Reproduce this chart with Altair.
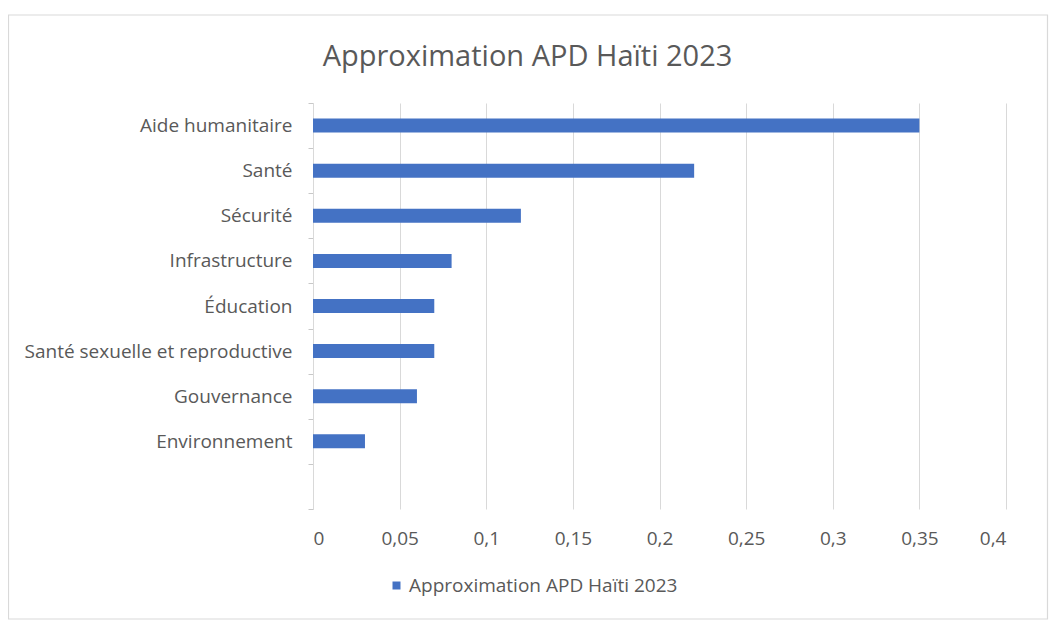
import altair as alt
import pandas as pd

categories = ["Aide humanitaire", "Santé", "Sécurité", "Infrastructure", "Éducation",
              "Santé sexuelle et reproductive", "Gouvernance", "Environnement"]
values = [0.35, 0.22, 0.12, 0.08, 0.07, 0.07, 0.06, 0.03]
series_name = "Approximation APD Haïti 2023"
x_ticks = [0, 0.05, 0.1, 0.15, 0.2, 0.25, 0.3, 0.35, 0.4]
y_domain = categories + [" "]

df = pd.DataFrame({"cat": categories, "val": values, "series": [series_name] * len(categories)})

FONT = "Open Sans"
GREY = "#595959"
LINE = "#D9D9D9"

W, H = 693, 406
PL, PT, PR, PB = 305, 95, 48, 115

bars = alt.Chart(df).mark_bar(color="#4472C4", height=14).encode(
    y=alt.Y("cat:N", sort=y_domain,
            scale=alt.Scale(domain=y_domain, paddingInner=0, paddingOuter=0),
            axis=alt.Axis(title=None, labelFont=FONT, labelFontSize=19, labelColor=GREY,
                          domainColor=LINE, tickColor="#C8C8C8", tickSize=5, tickWidth=1,
                          tickBand="extent", labelPadding=16, grid=False, labelLimit=400)),
    x=alt.X("val:Q", scale=alt.Scale(domain=[0, 0.4], nice=False),
            axis=alt.Axis(title=None, values=x_ticks, labelFont=FONT, labelFontSize=19,
                          labelColor=GREY, domain=False, ticks=False, grid=True,
                          gridColor=LINE, labelPadding=20,
                          labelExpr="replace(format(datum.value, '~g'), '.', ',')")),
    color=alt.Color("series:N", scale=alt.Scale(range=["#4472C4"]),
                    legend=alt.Legend(title=None, orient="none", legendX=74, legendY=473,
                                      direction="horizontal", symbolType="square",
                                      symbolSize=64, labelFont=FONT, labelFontSize=19,
                                      labelOffset=3, labelColor=GREY, symbolStrokeWidth=0,
                                      labelLimit=400)),
)

frame = alt.Chart(pd.DataFrame({"a": [0]})).mark_rect(
    fill=None, stroke=LINE, strokeWidth=1.2
).encode(
    x=alt.value(-304.5), x2=alt.value(734.5), y=alt.value(-88), y2=alt.value(516)
)

title = alt.Chart(pd.DataFrame({"t": [series_name]})).mark_text(
    font=FONT, fontSize=29, color=GREY, align="center", baseline="middle"
).encode(text="t:N", x=alt.value(214.5), y=alt.value(-46))

chart = alt.layer(frame, bars, title).properties(
    width=W, height=H,
    autosize=alt.AutoSizeParams(type="none"),
    padding={"left": PL, "top": PT, "right": PR, "bottom": PB},
).configure_view(stroke=None)

chart.save("out.html", embed_options={"renderer": "svg", "actions": False})
